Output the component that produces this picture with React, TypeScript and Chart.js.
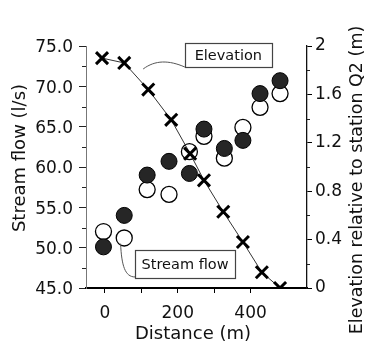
import React, { useEffect, useRef } from 'react';
import { Chart, registerables } from 'chart.js';

Chart.register(...registerables);

// ---- data ----
const elevationDistance = [-8, 53, 119, 182, 234, 272, 325, 379, 431, 481];
const elevation = [1.9, 1.86, 1.64, 1.39, 1.11, 0.89, 0.63, 0.38, 0.13, 0.0];
const flowDistance = [-4, 53, 116, 176, 232, 272, 328, 379, 426, 481];
const flowFilled = [50.1, 54.0, 59.0, 60.7, 59.2, 64.7, 62.3, 63.3, 69.1, 70.7];
const flowOpen = [52.0, 51.2, 57.2, 56.6, 61.9, 63.8, 61.1, 64.9, 67.4, 69.1];

const xTicks = [0, 100, 200, 300, 400];
const xLabelled = [0, 200, 400];
const flowTicks = [45, 50, 55, 60, 65, 70, 75];
const flowMinorTicks = [47.5, 52.5, 57.5, 62.5, 67.5, 72.5];
const elevTicks = [0, 0.4, 0.8, 1.2, 1.6, 2];
const elevMinorTicks = [0.2, 0.6, 1.0, 1.4, 1.8];

const xTitle = 'Distance (m)';
const yTitle = 'Stream flow (l/s)';
const y1Title = 'Elevation relative to station Q2 (m)';
const elevationLabel = 'Elevation';
const flowLabel = 'Stream flow';

const FONT = '"DejaVu Sans", "Liberation Sans", sans-serif';

export default function App() {
  const ref = useRef<HTMLCanvasElement>(null);

  useEffect(() => {
    const canvas = ref.current!;

    const overlay = {
      id: 'overlay',
      afterDraw(chart: any) {
        const ctx = chart.ctx as CanvasRenderingContext2D;
        const xs = chart.scales.x;
        const ys = chart.scales.y;
        const y1s = chart.scales.y1;
        const area = chart.chartArea;
        ctx.save();

        // minor ticks
        ctx.strokeStyle = '#222';
        ctx.lineWidth = 1;
        flowMinorTicks.forEach((v) => {
          const py = Math.round(ys.getPixelForValue(v)) + 0.5;
          ctx.beginPath();
          ctx.moveTo(area.left - 4, py);
          ctx.lineTo(area.left, py);
          ctx.stroke();
        });
        elevMinorTicks.forEach((v) => {
          const py = Math.round(y1s.getPixelForValue(v)) + 0.5;
          ctx.beginPath();
          ctx.moveTo(area.right, py);
          ctx.lineTo(area.right + 3, py);
          ctx.stroke();
        });

        // axis titles
        ctx.fillStyle = '#111';
        ctx.textAlign = 'center';
        ctx.textBaseline = 'middle';
        ctx.font = `18px ${FONT}`;
        ctx.fillText(xTitle, 193, 334);

        ctx.save();
        ctx.translate(20, 158);
        ctx.rotate(-Math.PI / 2);
        ctx.fillText(yTitle, 0, 0);
        ctx.restore();

        ctx.save();
        ctx.font = `17.5px ${FONT}`;
        ctx.translate(357, 180);
        ctx.rotate(-Math.PI / 2);
        ctx.fillText(y1Title, 0, 0);
        ctx.restore();

        // annotation boxes with leader lines
        const drawBox = (cx: number, cy: number, w: number, h: number, text: string) => {
          const l = Math.round(cx - w / 2) + 0.5;
          const t = Math.round(cy - h / 2) + 0.5;
          ctx.fillStyle = '#fff';
          ctx.fillRect(l, t, w, h);
          ctx.strokeStyle = '#444';
          ctx.lineWidth = 1.2;
          ctx.strokeRect(l, t, w, h);
          ctx.fillStyle = '#111';
          ctx.font = `14.5px ${FONT}`;
          ctx.fillText(text, cx, cy + 1);
        };

        // Elevation label
        const ecx = xs.getPixelForValue(339);
        const ecy = ys.getPixelForValue(73.88);
        const eb = { l: ecx - 43.5, b: ecy + 12 };
        const es = { x: xs.getPixelForValue(105), y: ys.getPixelForValue(72.15) };
        ctx.strokeStyle = '#555';
        ctx.lineWidth = 1;
        ctx.beginPath();
        ctx.moveTo(es.x, es.y);
        ctx.bezierCurveTo(es.x + 12, es.y - 9, eb.l - 16, eb.b - 7, eb.l, eb.b);
        ctx.stroke();
        drawBox(ecx, ecy, 87, 24, elevationLabel);

        // Stream flow label
        const scx = xs.getPixelForValue(220);
        const scy = ys.getPixelForValue(47.98);
        const sb = { l: scx - 50, b: scy + 14 };
        const ss = { x: xs.getPixelForValue(43), y: ys.getPixelForValue(50.5) };
        ctx.strokeStyle = '#555';
        ctx.lineWidth = 1;
        ctx.beginPath();
        ctx.moveTo(ss.x, ss.y);
        ctx.bezierCurveTo(ss.x + 1, ss.y + 22, sb.l - 10, sb.b - 1, sb.l, sb.b - 1);
        ctx.stroke();
        drawBox(scx, scy, 100, 28, flowLabel);

        ctx.restore();
      },
    };

    const chart = new Chart(canvas, {
      type: 'scatter',
      data: {
        datasets: [
          {
            label: 'Elevation',
            yAxisID: 'y1',
            data: elevationDistance.map((d, i) => ({ x: d, y: elevation[i] })),
            showLine: true,
            borderColor: '#333',
            borderWidth: 1,
            pointStyle: 'crossRot',
            pointRadius: 8.5,
            pointBorderWidth: 3,
            pointBorderColor: '#000',
            backgroundColor: '#000',
          },
          {
            label: 'Stream flow (filled)',
            yAxisID: 'y',
            data: flowDistance.map((d, i) => ({ x: d, y: flowFilled[i] })),
            pointStyle: 'circle',
            pointRadius: 8,
            pointBorderWidth: 1,
            pointBorderColor: '#000',
            pointBackgroundColor: '#262626',
          },
          {
            label: 'Stream flow (open)',
            yAxisID: 'y',
            data: flowDistance.map((d, i) => ({ x: d, y: flowOpen[i] })),
            pointStyle: 'circle',
            pointRadius: 8,
            pointBorderWidth: 1.3,
            pointBorderColor: '#000',
            pointBackgroundColor: '#fff',
          },
        ],
      },
      options: {
        responsive: false,
        animation: false,
        events: [],
        layout: { padding: { top: 46, left: 0, right: 0, bottom: 0 } },
        plugins: { legend: { display: false }, tooltip: { enabled: false } },
        scales: {
          x: {
            type: 'linear',
            position: 'bottom',
            min: -52,
            max: 555,
            afterFit: (s: any) => { s.height = 58; },
            afterBuildTicks: (s: any) => { s.ticks = xTicks.map((v) => ({ value: v })); },
            grid: { drawOnChartArea: false, drawTicks: true, tickLength: 5, color: '#000', lineWidth: 1 },
            border: { display: true, color: '#000', width: 2 },
            ticks: {
              color: '#111',
              padding: 10,
              maxRotation: 0,
              autoSkip: false,
              font: { family: FONT, size: 17 },
              callback: (v: any) => (xLabelled.includes(Number(v)) ? String(v) : ''),
            },
          },
          y: {
            type: 'linear',
            position: 'left',
            min: 45,
            max: 75,
            afterFit: (s: any) => { s.width = 86; },
            afterBuildTicks: (s: any) => { s.ticks = flowTicks.map((v) => ({ value: v })); },
            grid: { drawOnChartArea: false, drawTicks: true, tickLength: 7, color: '#222', lineWidth: 1 },
            border: { display: true, color: '#777', width: 1 },
            ticks: {
              color: '#111',
              padding: 6,
              labelOffset: 2,
              autoSkip: false,
              font: { family: FONT, size: 17 },
              callback: (v: any) => Number(v).toFixed(1),
            },
          },
          y1: {
            type: 'linear',
            position: 'right',
            min: 0,
            max: 2,
            afterFit: (s: any) => { s.width = 61; },
            afterBuildTicks: (s: any) => { s.ticks = elevTicks.map((v) => ({ value: v })); },
            grid: { drawOnChartArea: false, drawTicks: true, tickLength: 5, color: '#000', lineWidth: 1 },
            border: { display: true, color: '#111', width: 1.3 },
            ticks: {
              color: '#111',
              padding: 3,
              autoSkip: false,
              font: { family: FONT, size: 17 },
              callback: (v: any) => String(Number(Number(v).toFixed(1))),
            },
          },
        },
      },
      plugins: [overlay],
    } as any);

    return () => chart.destroy();
  }, []);

  return (
    <div style={{ position: 'fixed', left: 0, top: 0, width: 368, height: 346, background: '#fff' }}>
      <canvas ref={ref} width={368} height={346} style={{ display: 'block', width: 368, height: 346 }} />
    </div>
  );
}
